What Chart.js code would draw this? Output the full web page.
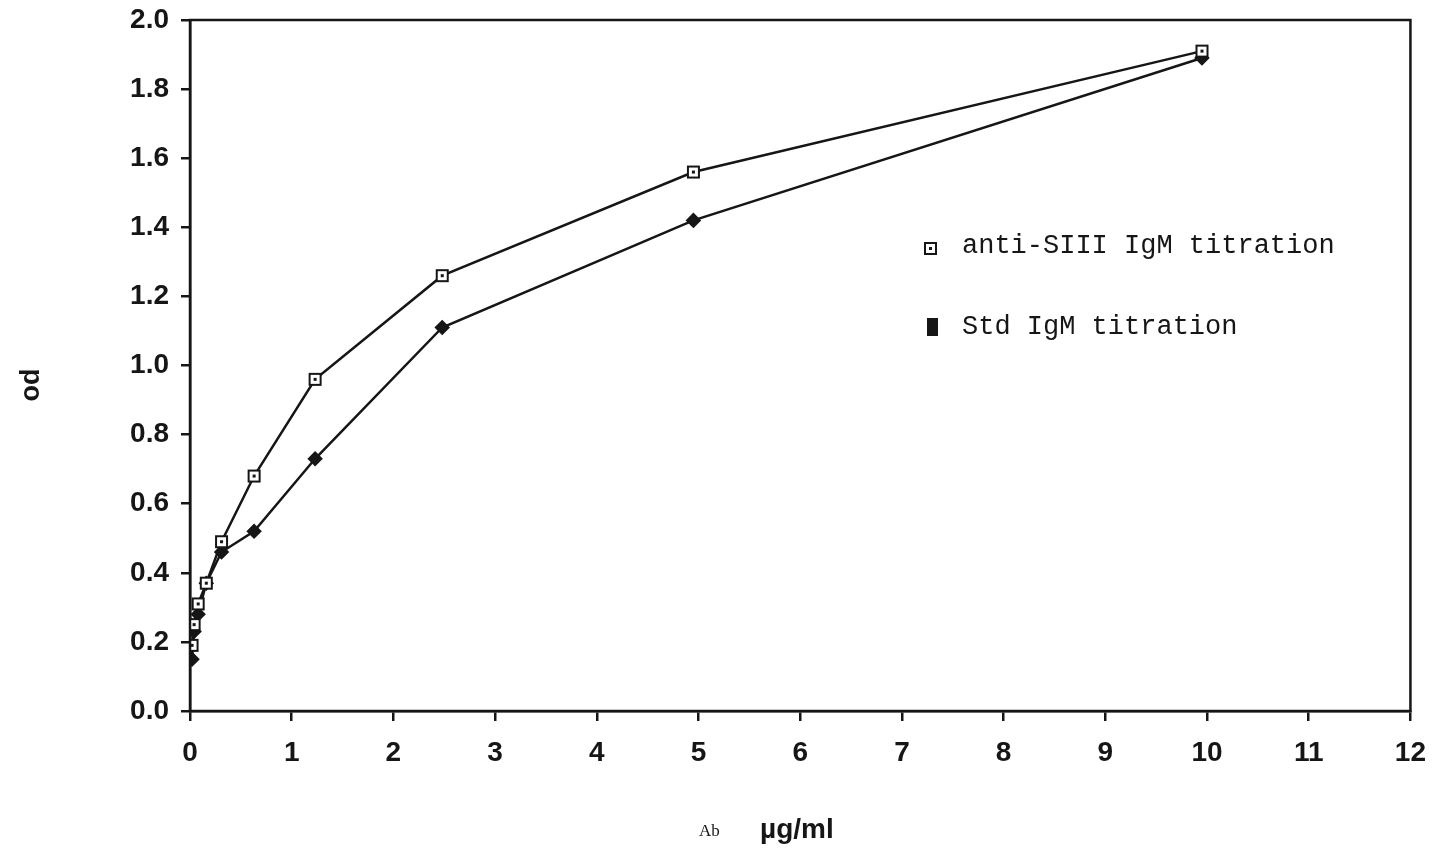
<!DOCTYPE html>
<html lang="en">
<head>
    <meta charset="UTF-8">
    <title>od vs Ab concentration</title>
    <script src="https://cdn.jsdelivr.net/npm/chart.js"></script>
    <style>
        body { margin: 0; background: white; }
        canvas { display: block; }
    </style>
</head>
<body>
    <canvas id="odChart" width="1441" height="867"></canvas>

    <script>
        // Ab concentration (ug/ml)
        const doses = [0.02, 0.04, 0.08, 0.16, 0.31, 0.63, 1.23, 2.48, 4.95, 9.95];
        const antiSIII = [0.19, 0.25, 0.31, 0.37, 0.49, 0.68, 0.96, 1.26, 1.56, 1.91];
        const stdIgM = [0.15, 0.23, 0.28, 0.37, 0.46, 0.52, 0.73, 1.11, 1.42, 1.89];
        const seriesNames = ['anti-SIII IgM titration', 'Std IgM titration'];
        const xTicks = [0, 1, 2, 3, 4, 5, 6, 7, 8, 9, 10, 11, 12];

        const ink = '#161616';
        const sans = '"Liberation Sans", Arial, sans-serif';
        const mono = '"Liberation Mono", "DejaVu Sans Mono", monospace';

        // open square with a dot in the middle
        function openSquare() {
            const c = document.createElement('canvas');
            c.width = c.height = 15;
            const g = c.getContext('2d');
            g.fillStyle = 'white';
            g.fillRect(1, 1, 13, 13);
            g.strokeStyle = ink;
            g.lineWidth = 2;
            g.strokeRect(2, 2, 11, 11);
            g.fillStyle = ink;
            g.fillRect(6, 6, 3, 3);
            return c;
        }
        const sqImg = openSquare();

        const decor = {
            id: 'decor',
            afterDraw(chart) {
                const { ctx, chartArea: a } = chart;
                ctx.save();
                ctx.strokeStyle = ink;
                ctx.lineWidth = 2.5;
                ctx.strokeRect(a.left, a.top, a.right - a.left, a.bottom - a.top);

                // legend inside plot
                ctx.fillStyle = ink;
                ctx.font = '27px ' + mono;
                ctx.textBaseline = 'middle';
                ctx.drawImage(sqImg, 923, 241);
                ctx.fillText(seriesNames[0], 962, 246);
                ctx.fillRect(927, 318, 11, 18);
                ctx.fillText(seriesNames[1], 962, 327);

                // y title
                ctx.save();
                ctx.translate(32, 385);
                ctx.rotate(-Math.PI / 2);
                ctx.textAlign = 'center';
                ctx.font = 'bold 27px ' + sans;
                ctx.fillText('od', 0, 0);
                ctx.restore();

                // x title
                ctx.font = '17px "Liberation Serif", serif';
                ctx.fillText('Ab', 699, 832);
                ctx.font = 'bold 28px ' + sans;
                ctx.fillText('\u00b5g/ml', 760, 830);
                ctx.restore();
            }
        };

        new Chart(document.getElementById('odChart').getContext('2d'), {
            type: 'scatter',
            data: {
                datasets: [{
                    label: seriesNames[0],
                    data: doses.map((d, i) => ({ x: d, y: antiSIII[i] })),
                    showLine: true,
                    borderColor: ink,
                    borderWidth: 2.5,
                    pointStyle: sqImg,
                    order: 1
                }, {
                    label: seriesNames[1],
                    data: doses.map((d, i) => ({ x: d, y: stdIgM[i] })),
                    showLine: true,
                    borderColor: ink,
                    borderWidth: 2.5,
                    pointStyle: 'rectRot',
                    pointRadius: 6,
                    pointBackgroundColor: ink,
                    pointBorderColor: ink,
                    order: 2
                }]
            },
            options: {
                responsive: false,
                animation: false,
                layout: { padding: { top: 20, right: 29 } },
                plugins: { legend: { display: false }, tooltip: { enabled: false } },
                scales: {
                    x: {
                        type: 'linear',
                        min: 0, max: 12,
                        afterFit: s => { s.height = 156; },
                        afterBuildTicks: s => { s.ticks = xTicks.map(v => ({ value: v })); },
                        border: { color: ink, width: 2.5 },
                        grid: { drawOnChartArea: false, tickLength: 10, color: ink, lineWidth: 2.5 },
                        ticks: { color: ink, padding: 15, maxRotation: 0, font: { family: sans, size: 28, weight: 'bold' } }
                    },
                    y: {
                        min: 0, max: 2,
                        afterFit: s => { s.width = 190; s.paddingTop = 0; s.paddingBottom = 0; },
                        border: { color: ink, width: 2.5 },
                        grid: { drawOnChartArea: false, tickLength: 9, color: ink, lineWidth: 2.5 },
                        ticks: {
                            stepSize: 0.2, color: ink, padding: 12,
                            font: { family: sans, size: 28, weight: 'bold' },
                            callback: v => v.toFixed(1)
                        }
                    }
                }
            },
            plugins: [decor]
        });
    </script>
</body>
</html>
